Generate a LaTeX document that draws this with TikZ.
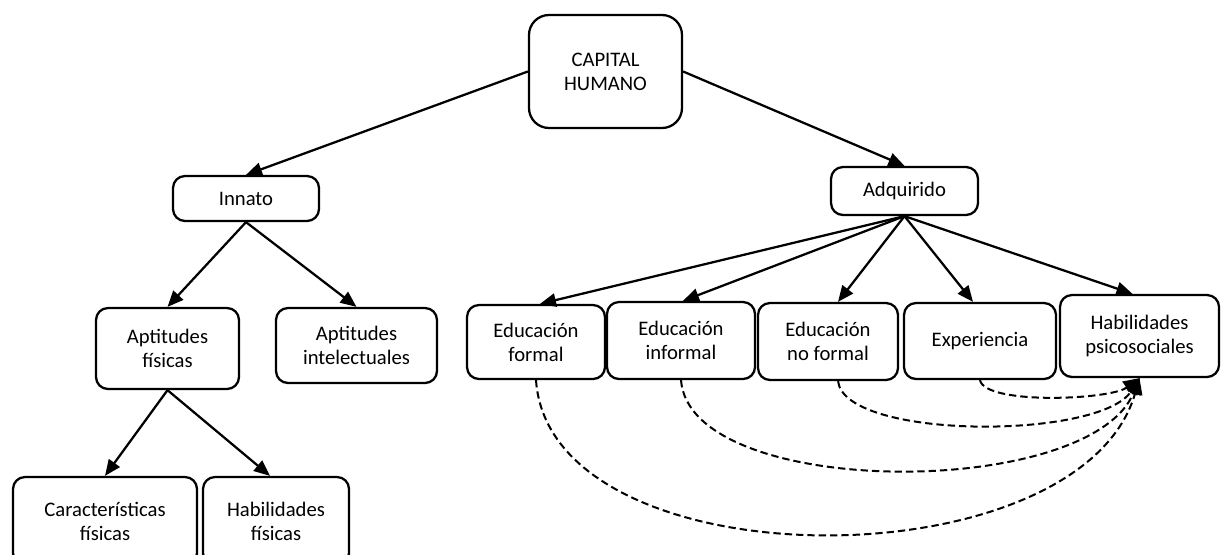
\documentclass[tikz,border=0pt]{standalone}
\usepackage{fontspec}
\setmainfont{Carlito}
\usetikzlibrary{arrows.meta,calc}
\begin{document}
\begin{tikzpicture}[x=0.75pt,y=-0.75pt,
  box/.style={draw, line width=1.7pt, rounded corners=9pt, align=center, inner sep=0pt, font=\fontsize{15.5}{18}\selectfont},
  arr/.style={line width=1.7pt, -{Triangle[length=12pt,width=10pt]}},
  darr/.style={line width=1.5pt, dash pattern=on 5.5pt off 3pt, -{Triangle[length=12pt,width=11pt]}}]
\useasboundingbox (0,0) rectangle (1221,554);
\clip (0,0) rectangle (1221,554);
\node[box, minimum width=114.75pt, minimum height=84.75pt, rounded corners=15pt] (cap) at (605.5,71.5) {CAPITAL\\HUMANO};
\node[box, minimum width=109.5pt, minimum height=33.75pt] (inn) at (246,198.5) {Innato};
\node[box, minimum width=110.25pt, minimum height=36pt] (adq) at (904.5,191) {Adquirido};
\node[box, minimum width=107.25pt, minimum height=60.75pt] (aptf) at (167.5,348.5) {Aptitudes\\físicas};
\node[box, minimum width=120.75pt, minimum height=56.25pt] (apti) at (356.5,345.5) {Aptitudes\\intelectuales};
\node[box, minimum width=138pt, minimum height=66pt] (carf) at (105,521) {Características\\físicas};
\node[box, minimum width=109.5pt, minimum height=66pt] (habf) at (276,521) {Habilidades\\físicas};
\node[box, minimum width=103.5pt, minimum height=55.5pt] (edf) at (536,342) {Educación\\formal};
\node[box, minimum width=111pt, minimum height=57.75pt] (edi) at (681,340.5) {Educación\\informal};
\node[box, minimum width=105pt, minimum height=57.75pt] (edn) at (828,341.5) {Educación\\no formal};
\node[box, minimum width=114pt, minimum height=57pt] (exp) at (980,341) {Experiencia};
\node[box, minimum width=119.25pt, minimum height=61.5pt] (hab) at (1139.5,336) {Habilidades\\psicosociales};

\draw[arr] (cap.west) -- (inn.north);
\draw[arr] (cap.east) -- (adq.north);
\draw[arr] (inn.south) -- (aptf.north);
\draw[arr] (inn.south) -- (apti.north);
\draw[arr] (aptf.south) -- (carf.north);
\draw[arr] (aptf.south) -- ($(habf.north)+(-6,0)$);
\draw[arr] (adq.south) -- ($(edf.north)+(4,0)$);
\draw[arr] (adq.south) -- ($(edi.north)+(2,0)$);
\draw[arr] (adq.south) -- ($(edn.north)+(10,0)$);
\draw[arr] (adq.south) -- ($(exp.north)+(-7,0)$);
\draw[arr] (adq.south) -- ($(hab.north)+(-7,0)$);

\draw[darr] (edf.south) .. controls (550,585) and (1080,585) .. (hab.south);
\draw[darr] (edi.south) .. controls (690,500) and (1090,500) .. (hab.south);
\draw[darr] ($(edn.south)+(10,0)$) .. controls (845,440) and (1100,440) .. (hab.south);
\draw[darr] (exp.south) .. controls (985,405) and (1110,400) .. (hab.south);
\end{tikzpicture}
\end{document}
